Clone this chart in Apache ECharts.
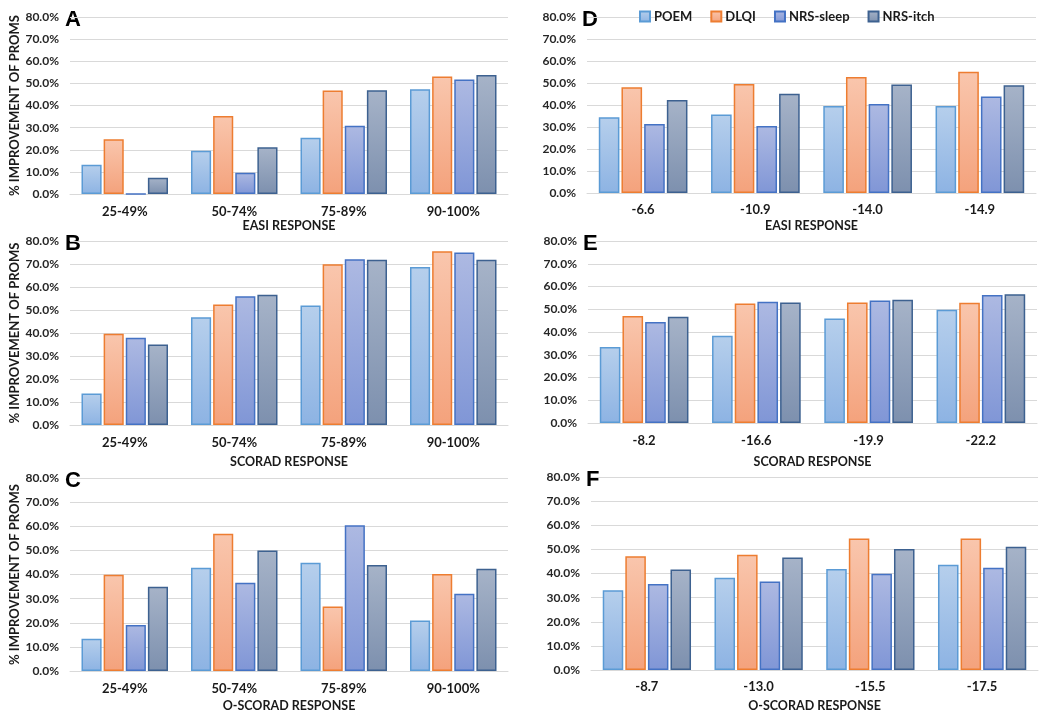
<!DOCTYPE html>
<html>
<head>
<meta charset="utf-8">
<script src="https://cdn.jsdelivr.net/npm/echarts@6/dist/echarts.min.js"></script>
<style>
html,body{margin:0;padding:0;background:#fff;}
#chart{width:1050px;height:718px;}
</style>
</head>
<body>
<div id="chart"></div>
<script>
// ---- Data ----
const seriesNames = ['POEM', 'DLQI', 'NRS-sleep', 'NRS-itch'];
const yTicks = [0, 10, 20, 30, 40, 50, 60, 70, 80];

const catsPct = ['25-49%', '50-74%', '75-89%', '90-100%'];
const catsD = ['-6.6', '-10.9', '-14.0', '-14.9'];
const catsE = ['-8.2', '-16.6', '-19.9', '-22.2'];
const catsF = ['-8.7', '-13.0', '-15.5', '-17.5'];

// Panel A: EASI response (% categories)
const A_POEM  = [13.2, 19.5, 25.4, 47.4];
const A_DLQI  = [24.8, 35.2, 46.8, 53.1];
const A_SLEEP = [0.0, 9.6, 30.8, 51.7];
const A_ITCH  = [7.4, 21.1, 46.9, 53.8];

// Panel B: SCORAD response (% categories)
const B_POEM  = [13.7, 46.9, 52.0, 68.7];
const B_DLQI  = [39.7, 52.4, 69.9, 75.5];
const B_SLEEP = [37.9, 56.0, 72.1, 75.0];
const B_ITCH  = [35.0, 56.6, 71.8, 71.8];

// Panel C: O-SCORAD response (% categories)
const C_POEM  = [13.4, 42.8, 44.9, 20.9];
const C_DLQI  = [39.9, 56.9, 26.7, 40.2];
const C_SLEEP = [19.1, 36.6, 60.4, 32.0];
const C_ITCH  = [34.9, 50.0, 43.9, 42.4];

// Panel D: EASI response (absolute change)
const D_POEM  = [34.4, 35.7, 39.5, 39.6];
const D_DLQI  = [48.1, 49.5, 52.7, 55.1];
const D_SLEEP = [31.4, 30.5, 40.4, 43.9];
const D_ITCH  = [42.3, 45.1, 49.3, 49.0];

// Panel E: SCORAD response (absolute change)
const E_POEM  = [33.4, 38.4, 45.9, 49.8];
const E_DLQI  = [47.0, 52.5, 53.0, 52.9];
const E_SLEEP = [44.4, 53.3, 53.8, 56.3];
const E_ITCH  = [46.7, 53.0, 54.2, 56.6];

// Panel F: O-SCORAD response (absolute change)
const F_POEM  = [33.1, 38.2, 41.9, 43.6];
const F_DLQI  = [47.1, 47.8, 54.5, 54.5];
const F_SLEEP = [35.6, 36.7, 39.9, 42.4];
const F_ITCH  = [41.7, 46.6, 50.2, 51.1];

// ---- Styling ----
const FONT = 'Lato, "Open Sans", "DejaVu Sans", sans-serif';
const styles = [
  {top:'#b6cfec', bottom:'#8db3e3', border:'#5b9bd5'},
  {top:'#f9c6ad', bottom:'#f4a27c', border:'#ed7d31'},
  {top:'#adb9e2', bottom:'#8096d6', border:'#4472c4'},
  {top:'#a6b3c8', bottom:'#7d90ae', border:'#3d6190'}
];
function grad(s){
  return {type:'linear', x:0, y:0, x2:0, y2:1,
    colorStops:[{offset:0,color:s.top},{offset:1,color:s.bottom}]};
}

const panels = [
  {letter:'A', cats:catsPct, data:[A_POEM,A_DLQI,A_SLEEP,A_ITCH], title:'EASI RESPONSE',
   grid:{left:70, top:17, width:438, height:177}, ylab:true, labM:11, nameGap:25},
  {letter:'B', cats:catsPct, data:[B_POEM,B_DLQI,B_SLEEP,B_ITCH], title:'SCORAD RESPONSE',
   grid:{left:70, top:241, width:438, height:184}, ylab:true, labM:11, nameGap:30},
  {letter:'C', cats:catsPct, data:[C_POEM,C_DLQI,C_SLEEP,C_ITCH], title:'O-SCORAD RESPONSE',
   grid:{left:70, top:478, width:438, height:193}, ylab:true, labM:11, nameGap:28},
  {letter:'D', cats:catsD, data:[D_POEM,D_DLQI,D_SLEEP,D_ITCH], title:'EASI RESPONSE',
   grid:{left:587, top:17, width:449, height:176}, ylab:false, labM:10, nameGap:26},
  {letter:'E', cats:catsE, data:[E_POEM,E_DLQI,E_SLEEP,E_ITCH], title:'SCORAD RESPONSE',
   grid:{left:588, top:241, width:449, height:182}, ylab:false, labM:11, nameGap:32},
  {letter:'F', cats:catsF, data:[F_POEM,F_DLQI,F_SLEEP,F_ITCH], title:'O-SCORAD RESPONSE',
   grid:{left:591, top:477, width:447, height:193}, ylab:false, labM:10, nameGap:29}
];

const grids = [], xAxes = [], yAxes = [], series = [], graphics = [];
panels.forEach((p, i) => {
  grids.push(Object.assign({containLabel:false}, p.grid));
  xAxes.push({
    type:'category', gridIndex:i, data:p.cats,
    axisLine:{show:true, lineStyle:{color:'#d9d9d9', width:1}},
    axisTick:{show:false},
    axisLabel:{fontFamily:FONT, fontWeight:'bold', fontSize:13, color:'#1a1a1a', margin:p.labM},
    name:p.title, nameLocation:'middle', nameGap:p.nameGap,
    nameTextStyle:{fontFamily:FONT, fontWeight:'bold', fontSize:12.5, color:'#1a1a1a'}
  });
  yAxes.push({
    type:'value', gridIndex:i, min:yTicks[0], max:yTicks[yTicks.length-1], interval:10,
    axisLine:{show:false}, axisTick:{show:false},
    splitLine:{show:true, lineStyle:{color:'#d9d9d9', width:1}},
    axisLabel:{fontFamily:FONT, fontWeight:'bold', fontSize:12, color:'#262626', margin:11,
      formatter: v => v.toFixed(1) + '%'},
    name: p.ylab ? '% IMPROVEMENT OF PROMS' : '',
    nameLocation:'middle', nameGap:49, nameRotate:90,
    nameTextStyle:{fontFamily:FONT, fontWeight:'bold', fontSize:13, color:'#1a1a1a'}
  });
  p.data.forEach((arr, k) => {
    series.push({
      name:seriesNames[k], type:'bar', xAxisIndex:i, yAxisIndex:i, data:arr,
      barCategoryGap:'21%', barGap:'10%',
      itemStyle:{color:grad(styles[k]), borderColor:styles[k].border, borderWidth:1.5},
      emphasis:{disabled:true}, animation:false
    });
  });
  graphics.push({
    type:'text', left:p.grid.left - 5, top:p.grid.top - 8,
    style:{text:p.letter, font:'bold 22px "Liberation Sans", Arial, sans-serif', fill:'#000'}
  });
});

const chart = echarts.init(document.getElementById('chart'), null, {renderer:'canvas'});
chart.setOption({
  animation:false,
  backgroundColor:'#ffffff',
  legend:{
    data:seriesNames, left:634, top:5, icon:'rect', itemWidth:10, itemHeight:10, itemGap:18,
    textStyle:{fontFamily:FONT, fontWeight:'bold', fontSize:13, color:'#1a1a1a', padding:[0,0,0,-1]}
  },
  grid:grids, xAxis:xAxes, yAxis:yAxes, series:series, graphic:graphics
});
</script>
</body>
</html>
